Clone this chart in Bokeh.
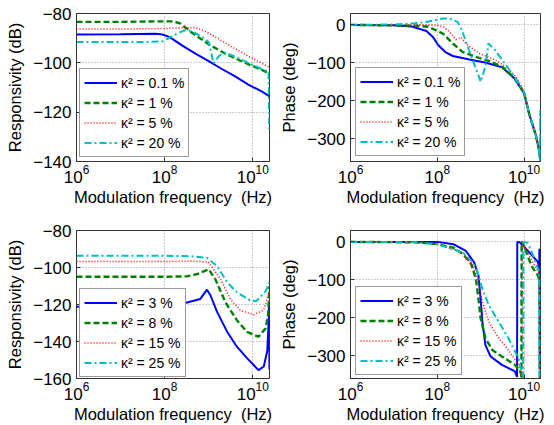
import numpy as np
from bokeh.plotting import figure
from bokeh.layouts import row, column
from bokeh.models import FixedTicker, Legend, LegendItem, Range1d
from bokeh.embed import file_html
from bokeh.resources import INLINE

FONT = "Liberation Sans"
X_START = 1e6
X_END = 10 ** 10.38
X_TICKS = [1e6, 1e8, 1e10]
XLABEL = "Modulation frequency\u00a0 (Hz)"

# ---------------- top-left: responsivity (dB), kappa^2 = 0.1/1/5/20 %
tl_labels = ["κ² = 0.1 %", "κ² = 1 %", "κ² = 5 %", "κ² = 20 %"]
tl_a_logf = [6, 7, 7.8, 7.95, 8.1, 8.2, 8.4, 8.7, 9.0, 9.3, 9.6, 9.9, 10.2, 10.375]
tl_a_val = [-88.5, -88.4, -88.2, -88.5, -89.5, -90.6, -93.0, -96.3, -99.3, -102.5, -105.5, -108.8, -111.6, -113.5]
tl_b_logf = [6, 7, 7.8, 8.2, 8.35, 8.6, 9.0, 9.4, 9.8, 10.2, 10.375]
tl_b_val = [-83.4, -83.4, -83.2, -83.2, -84.0, -87.5, -92.5, -96.5, -99.8, -102.8, -104.3]
tl_c_logf = [6, 7, 8.0, 8.4, 8.7, 8.9, 9.2, 9.5, 9.8, 10.1, 10.375]
tl_c_val = [-86.3, -86.3, -86.1, -85.8, -85.8, -87.0, -90.0, -93.3, -96.3, -99.2, -101.8]
tl_d_logf = [6, 7, 7.7, 7.96, 8.2, 8.44, 8.55, 8.7, 8.9, 9.0, 9.11, 9.22, 9.34, 9.6, 9.95, 10.2, 10.36, 10.375]
tl_d_val = [-91.6, -91.6, -91.5, -91.3, -88.9, -86.9, -86.8, -88.0, -90.0, -91.6, -100.2, -97.5, -95.7, -97.5, -100.4, -102.5, -103.5, -127.0]
tl_yticks = [-140, -120, -100, -80]

# ---------------- top-right: phase (deg), kappa^2 = 0.1/1/5/20 %
tr_a_logf = [6, 7, 7.4, 7.75, 7.9, 8.02, 8.18, 8.36, 8.74, 9.1, 9.5, 9.78, 10.0, 10.12, 10.27, 10.34, 10.38]
tr_a_val = [0, -1, -4, -16, -32, -53, -71, -82, -91, -99, -112, -141, -180, -235, -290, -326, -360]
tr_b_logf = [6, 7.5, 7.8, 8.13, 8.36, 8.58, 8.88, 9.19, 9.5, 9.79, 10.0, 10.12, 10.27, 10.34, 10.38]
tr_b_val = [0, -2, -5, -23, -49, -71, -84, -95, -111, -140, -179, -235, -290, -326, -360]
tr_c_logf = [6, 7.5, 8.0, 8.15, 8.28, 8.43, 8.55, 8.66, 8.96, 9.33, 9.63, 9.85, 10.0, 10.12, 10.27, 10.34, 10.38]
tr_c_val = [0, 0, -1, -6, -18, -39, -33, -49, -75, -92, -114, -142, -176, -234, -290, -326, -360]
tr_d_logf = [6, 7, 7.47, 7.76, 8.13, 8.28, 8.47, 8.58, 8.73, 8.92, 9.0, 9.11, 9.18, 9.33, 9.56, 9.78, 10.0, 10.12, 10.27, 10.34, 10.372, 10.375, 10.378]
tr_d_val = [0, 1, 4, 8, 17, 17, 8, -18, -66, -124, -150, -110, -49, -66, -102, -137, -176, -234, -290, -326, -360, -224, -360]
tr_yticks = [-300, -200, -100, 0]

# ---------------- bottom-left: responsivity (dB), kappa^2 = 3/8/15/25 %
bot_labels = ["κ² = 3 %", "κ² = 8 %", "κ² = 15 %", "κ² = 25 %"]
bl_a_logf = [6, 7.5, 8.0, 8.4, 8.81, 8.96, 9.04, 9.19, 9.42, 9.64, 9.87, 10.13, 10.25, 10.33, 10.36, 10.375, 10.378]
bl_a_val = [-121.2, -121.0, -120.5, -119.6, -117.0, -112.0, -115.0, -124.0, -134.8, -142.8, -149.0, -155.5, -153.5, -145.0, -130.0, -118.0, -155.0]
bl_b_logf = [6, 8.0, 8.5, 8.75, 8.9, 9.0, 9.15, 9.38, 9.64, 9.87, 10.13, 10.29, 10.35, 10.378]
bl_b_val = [-105.0, -105.0, -104.8, -103.5, -102.0, -101.0, -106.3, -118.8, -128.5, -134.8, -137.4, -133.0, -125.0, -110.0]
bl_c_logf = [6, 8.0, 8.6, 8.99, 9.27, 9.49, 9.72, 10.02, 10.25, 10.378]
bl_c_val = [-96.8, -96.8, -96.6, -97.0, -106.3, -117.0, -123.2, -125.5, -123.0, -113.0]
bl_d_logf = [6, 8.0, 8.6, 8.96, 9.19, 9.42, 9.64, 9.95, 10.08, 10.29, 10.378]
bl_d_val = [-93.7, -93.7, -93.9, -94.8, -99.2, -108.0, -113.4, -117.9, -118.2, -113.0, -108.0]
bl_yticks = [-160, -140, -120, -100, -80]

# ---------------- bottom-right: phase (deg), kappa^2 = 3/8/15/25 %
br_a_logf = [6, 7.5, 8.0, 8.37, 8.66, 8.85, 8.95, 9.0, 9.04, 9.11, 9.23, 9.49, 9.79, 9.84, 9.845, 9.9, 10.1, 10.32, 10.35, 10.355, 10.362]
br_a_val = [0, 0, 0, -6, -24, -54, -89, -150, -211, -272, -302, -324, -341, -356, 0, -1, -25, -53, -70, -18, -335]
br_b_logf = [6, 7.5, 8.0, 8.37, 8.59, 8.78, 8.89, 8.95, 9.0, 9.11, 9.27, 9.49, 9.79, 9.93, 9.94, 9.945, 9.97, 10.17, 10.32, 10.36, 10.365]
br_b_val = [0, -1, -6, -15, -32, -58, -97, -150, -201, -254, -285, -302, -324, -345, -360, 0, -2, -63, -89, -100, -360]
br_c_logf = [6, 7.5, 8.0, 8.59, 8.82, 8.93, 9.04, 9.19, 9.42, 9.64, 9.87, 9.95, 9.955, 9.98, 10.2, 10.36, 10.365]
br_c_val = [0, -1, -6, -28, -63, -102, -158, -211, -254, -285, -324, -360, 0, -3, -54, -85, -360]
br_d_logf = [6, 7.5, 8.0, 8.59, 8.82, 8.93, 9.04, 9.19, 9.42, 9.64, 9.87, 9.96, 9.98, 9.985, 10.09, 10.24, 10.35, 10.36]
br_d_val = [0, -1, -6, -28, -54, -80, -124, -167, -211, -254, -306, -350, -360, 0, -3, -45, -80, -360]
br_yticks = [-300, -200, -100, 0]

STYLES = [
    dict(line_color="#0000FF", line_width=2, line_dash="solid"),
    dict(line_color="#008000", line_width=2.4, line_dash="6 3"),
    dict(line_color="#FF0000", line_width=1.5, line_dash="1 2"),
    dict(line_color="#00BFBF", line_width=2, line_dash="7 3 2 3"),
]


def panel(width, height, borders, yr, yticks, ylabel, curves, labels, legend_loc):
    left, right, top, bottom = borders
    p = figure(width=width, height=height, x_axis_type="log",
               x_range=Range1d(X_START, X_END), y_range=Range1d(*yr),
               output_backend="svg", toolbar_location=None,
               min_border_left=left, min_border_right=right,
               min_border_top=top, min_border_bottom=bottom)
    p.background_fill_color = "white"
    p.border_fill_color = "white"
    p.outline_line_color = "#333333"
    p.outline_line_width = 1
    p.xaxis.ticker = FixedTicker(ticks=X_TICKS, minor_ticks=[])
    p.yaxis.ticker = FixedTicker(ticks=yticks, minor_ticks=[])
    for ax in (p.xaxis[0], p.yaxis[0]):
        ax.axis_line_color = "#333333"
        ax.major_tick_in = 4
        ax.major_tick_out = 0
        ax.minor_tick_in = 0
        ax.minor_tick_out = 0
        ax.major_tick_line_color = "#333333"
        ax.major_label_text_font = FONT
        ax.major_label_text_font_size = "17px"
        ax.major_label_text_color = "black"
        ax.axis_label_text_font = FONT
        ax.axis_label_text_font_size = "16.5px"
        ax.axis_label_text_font_style = "normal"
        ax.axis_label_text_color = "black"
    p.xaxis.major_label_standoff = 3
    p.xaxis.axis_label_standoff = 2
    p.yaxis.major_label_standoff = 5
    p.yaxis.axis_label_standoff = 6
    p.xaxis.axis_label = XLABEL
    p.yaxis.axis_label = ylabel
    for g in (p.xgrid[0], p.ygrid[0]):
        g.grid_line_color = "#9a9a9a"
        g.grid_line_dash = "1 2"
        g.grid_line_width = 1
    p.xgrid.ticker = FixedTicker(ticks=X_TICKS)
    p.ygrid.ticker = FixedTicker(ticks=yticks)

    items = []
    for (lf, vals), lab, st in zip(curves, labels, STYLES):
        f = 10 ** np.asarray(lf, dtype=float)
        r = p.line(f, vals, **st)
        items.append(LegendItem(label=lab, renderers=[r]))
    leg = Legend(items=items, location=legend_loc, margin=0, padding=4,
                 spacing=1, glyph_width=33, glyph_height=19, label_height=19,
                 label_standoff=4, label_text_font=FONT,
                 label_text_font_size="14px", label_text_color="black",
                 border_line_color="#333333", border_line_width=1,
                 background_fill_color="white", background_fill_alpha=1)
    p.add_layout(leg, "center")
    return p


p1 = panel(277, 212, (76, 8, 13, 51), (-140, -80), tl_yticks, "Responsivity (dB)",
           [(tl_a_logf, tl_a_val), (tl_b_logf, tl_b_val), (tl_c_logf, tl_c_val), (tl_d_logf, tl_d_val)],
           tl_labels, (3, 4))
p2 = panel(277, 212, (68, 14, 13, 51), (-360, 30), tr_yticks, "Phase (deg)",
           [(tr_a_logf, tr_a_val), (tr_b_logf, tr_b_val), (tr_c_logf, tr_c_val), (tr_d_logf, tr_d_val)],
           tl_labels, (5, 5))
p3 = panel(277, 213, (76, 8, 17, 46), (-160, -80), bl_yticks, "Responsivity (dB)",
           [(bl_a_logf, bl_a_val), (bl_b_logf, bl_b_val), (bl_c_logf, bl_c_val), (bl_d_logf, bl_d_val)],
           bot_labels, (3, 1))
p4 = panel(277, 213, (68, 14, 18, 47), (-360, 30), br_yticks, "Phase (deg)",
           [(br_a_logf, br_a_val), (br_b_logf, br_b_val), (br_c_logf, br_c_val), (br_d_logf, br_d_val)],
           bot_labels, (5, 3))

layout = column(row(p1, p2, spacing=0), row(p3, p4, spacing=0), spacing=0)

with open("out.html", "w") as fh:
    fh.write(file_html(layout, INLINE))
